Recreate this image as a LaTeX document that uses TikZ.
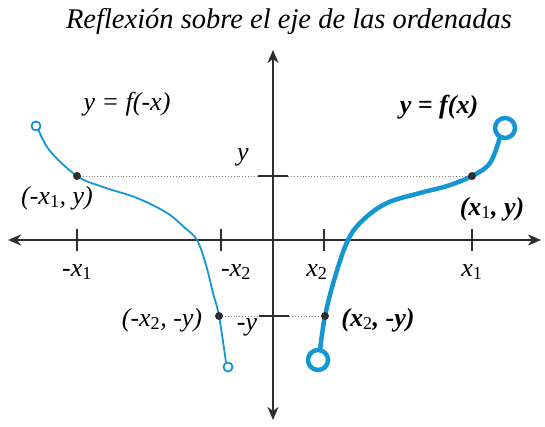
\documentclass[tikz,border=0pt]{standalone}
\usepackage{fontspec}
\setmainfont{Liberation Serif}
\usetikzlibrary{arrows.meta}
\definecolor{curveblue}{RGB}{20,150,212}
\definecolor{axisgray}{RGB}{45,45,45}
\newcommand{\sbs}[1]{\textsubscript{\upshape\mdseries #1}}
\begin{document}
\begin{tikzpicture}[x=1pt,y=-1pt,
  axis/.style={draw=axisgray,line width=1.8pt,-{Stealth[length=13pt,width=11pt,inset=4pt]}},
  tick/.style={draw=axisgray,line width=1.8pt},
  guide/.style={draw=gray,line width=0.9pt,dotted},
  thincurve/.style={draw=curveblue,line width=1.8pt},
  thickcurve/.style={draw=curveblue,line width=4.5pt},
  dot/.style={circle,fill=axisgray,inner sep=0pt,minimum size=8pt},
  lbl/.style={font=\fontsize{26}{28}\selectfont\itshape,inner sep=0pt},
  blbl/.style={font=\fontsize{26}{28}\selectfont\bfseries\itshape,inner sep=0pt}]
\useasboundingbox (0,0) rectangle (545,427);
\node[font=\fontsize{28.5}{30}\selectfont\itshape] (title) at (289,22) {Reflexión sobre el eje de las ordenadas};
% axes
\coordinate (O) at (273,240);
\coordinate (xl) at (8,240);
\coordinate (xr) at (541,240);
\coordinate (yt) at (273,50);
\coordinate (yb) at (273,420);
\draw[axis] (O) -- (xl);
\draw[axis] (O) -- (xr);
\draw[axis] (O) -- (yt);
\draw[axis] (O) -- (yb);
% x ticks
\foreach \n/\x in {mx1/77,mx2/221,px2/324,px1/472}{
  \coordinate (\n a) at (\x,229);
  \coordinate (\n b) at (\x,251);
  \draw[tick] (\n a) -- (\n b);
}
% y ticks
\coordinate (yta) at (258,176); \coordinate (ytb) at (288,176);
\coordinate (ymta) at (259,316); \coordinate (ymtb) at (289,316);
\draw[tick] (yta) -- (ytb);
\draw[tick] (ymta) -- (ymtb);
% points
\coordinate (A) at (77,176);
\coordinate (B) at (472,176);
\coordinate (C) at (219,316);
\coordinate (D) at (325,316);
\draw[guide] (A) -- (yta);
\draw[guide] (ytb) -- (B);
\draw[guide] (C) -- (ymta);
\draw[guide] (ymtb) -- (D);
% left curve y=f(-x)
\node[circle,draw=curveblue,line width=1.8pt,minimum size=9pt,inner sep=0pt] (Lt) at (36,126) {};
\node[circle,draw=curveblue,line width=1.8pt,minimum size=9pt,inner sep=0pt] (Lb) at (228,367) {};
\draw[thincurve] plot[smooth,tension=0.6] coordinates {(38.5,130) (50,151) (77,176) (103,187) (137,198) (167,213) (185,228) (197,240) (206,265) (213,293) (219,316) (226,362.5)};
% right curve y=f(x)
\node[circle,draw=curveblue,line width=4.5pt,minimum size=20pt,inner sep=0pt] (Rt) at (505,128) {};
\node[circle,draw=curveblue,line width=4.5pt,minimum size=20pt,inner sep=0pt] (Rb) at (318,360) {};
\draw[thickcurve] plot[smooth,tension=0.6] coordinates {(320,350) (325,316) (335,277) (348,240) (363,220) (387,203) (420,193) (447,186) (472,176) (490,163) (500,137)};
% dots
\node[dot] (dA) at (A) {};
\node[dot] (dB) at (B) {};
\node[dot] (dC) at (C) {};
\node[dot] (dD) at (D) {};
% labels
\node[lbl] (fl) at (127,104) {y = f(-x)};
\node[blbl] (fr) at (439,107) {y = f(x)};
\node[lbl] (lA) at (57,198) {(-x\sbs{1}, y)};
\node[blbl] (lB) at (492,209) {(x\sbs{1}, y)};
\node[lbl] (lC) at (162,320) {(-x\sbs{2}, -y)};
\node[blbl] (lD) at (378,320) {(x\sbs{2}, -y)};
\node[lbl] (ly) at (243,157) {y};
\node[lbl] (lmy) at (247,327) {-y};
\node[lbl] (tmx1) at (77,272) {-x\sbs{1}};
\node[lbl] (tmx2) at (236,272) {-x\sbs{2}};
\node[lbl] (tpx2) at (317,272) {x\sbs{2}};
\node[lbl] (tpx1) at (472,272) {x\sbs{1}};
\end{tikzpicture}
\end{document}
